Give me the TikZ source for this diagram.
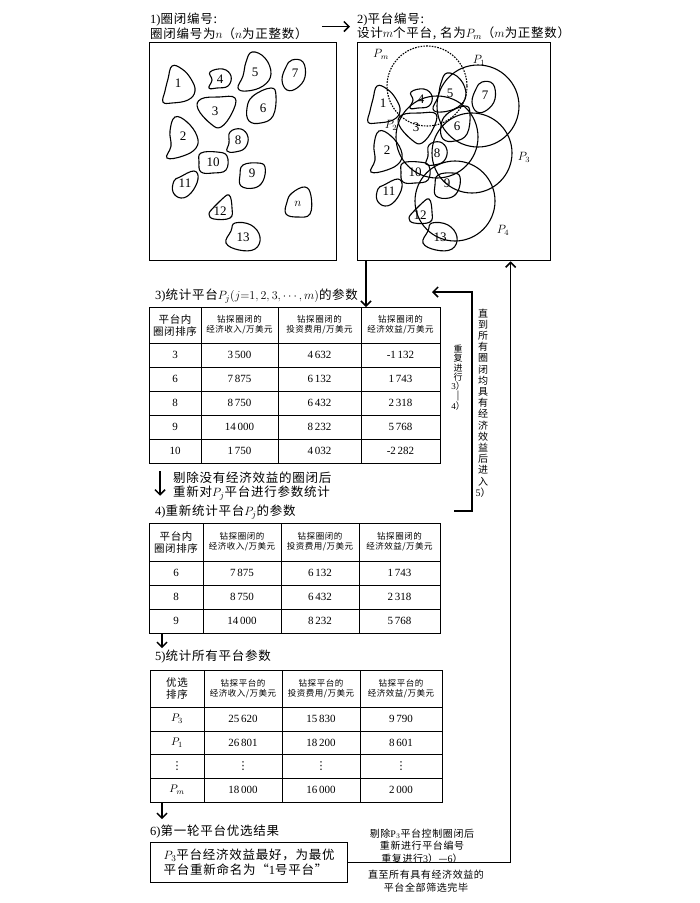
\documentclass[tikz,border=0pt]{standalone}
\usepackage[no-math]{fontspec}
\setmainfont[LetterSpace=6]{Noto Sans CJK SC}
\newfontfamily\numfont{Liberation Serif}
\newfontfamily\symfont{DejaVu Sans}
\usepackage{tikz}
\usetikzlibrary{arrows.meta}

\tikzset{
  frame/.style={draw, line width=1.3pt, inner sep=0pt},
  tbl/.style={draw, line width=1.2pt, inner sep=0pt},
  rule/.style={line width=0.9pt},
  blob/.style={line width=1.1pt},
  ring/.style={line width=1.1pt},
  arr/.style={line width=1.5pt, -{Straight Barb[length=5pt,width=10pt]}},
  ttl/.style={anchor=west, inner sep=0pt, align=left, font=\fontsize{12.5}{14.5}\selectfont},
  lbl/.style={inner sep=0pt, font=\numfont\fontsize{13}{15}\selectfont},
  plab/.style={inner sep=0pt, font=\fontsize{12}{14}\selectfont},
  hd/.style={inner sep=0pt, align=center, font=\fontsize{8.5}{10}\selectfont},
  hdA/.style={inner sep=0pt, align=center, font=\fontsize{10.5}{12}\selectfont},
  cell/.style={inner sep=0pt, font=\numfont\fontsize{11}{13}\selectfont},
  dots/.style={inner sep=0pt, font=\symfont\fontsize{11}{12}\selectfont},
  note/.style={inner sep=0pt, align=center, font=\fontsize{10}{12.5}\selectfont},
  blob1/.pic={\draw[blob] plot[smooth cycle, tension=0.7] coordinates {(-6,-17) (4,-14) (13,-4) (17,8) (10,17) (-6,20) (-15,19) (-13,8) (-10,-4)};},
  blob2/.pic={\draw[blob] plot[smooth cycle, tension=0.7] coordinates {(-8,-19) (4,-14) (14,0) (13,12) (0,20) (-16,22) (-12,10) (-13,-5)};},
  blob3/.pic={\draw[blob] plot[smooth cycle, tension=0.7] coordinates {(-14,-12) (4,-14) (20,-13) (17,2) (6,16) (-4,13) (-17,-2)};},
  blob4/.pic={\draw[blob] plot[smooth cycle, tension=0.7] coordinates {(-10,-7) (3,-10) (11,-3) (8,7) (-3,9) (-11,9) (-8,1)};},
  blob5/.pic={\draw[blob] plot[smooth cycle, tension=0.7] coordinates {(-3,-20) (10,-14) (16,2) (8,14) (-8,19) (-17,16) (-12,4) (-9,-10)};},
  blob6/.pic={\draw[blob] plot[smooth cycle, tension=0.7] coordinates {(-10,-12) (8,-20) (13,-12) (10,8) (-2,15) (-14,13) (-16,0)};},
  blob7/.pic={\draw[blob] plot[smooth cycle, tension=0.7] coordinates {(-3,-13) (8,-11) (10,4) (2,15) (-8,17) (-13,7) (-9,-6)};},
  blob8/.pic={\draw[blob] plot[smooth cycle, tension=0.7] coordinates {(-8,-8) (3,-11) (10,-3) (7,8) (-3,12) (-11,11) (-9,3)};},
  blob9/.pic={\draw[blob] plot[smooth cycle, tension=0.7] coordinates {(-9,-8) (6,-10) (13,-6) (11,8) (2,15) (-11,13) (-12,2)};},
  blob10/.pic={\draw[blob] plot[smooth cycle, tension=0.7] coordinates {(-12,-9) (4,-10) (14,-6) (13,8) (0,11) (-12,10) (-14,0)};},
  blob11/.pic={\draw[blob] plot[smooth cycle, tension=0.7] coordinates {(-5,-6) (9,-12) (13,-4) (6,10) (-4,15) (-12,9) (-11,-2)};},
  blob12/.pic={\draw[blob] plot[smooth cycle, tension=0.7] coordinates {(0,-10) (9,-16) (12,-3) (10,7) (-6,8) (-11,3) (-6,-4)};},
  blob13/.pic={\draw[blob] plot[smooth cycle, tension=0.7] coordinates {(-8,-14) (8,-12) (17,0) (12,12) (-4,13) (-17,6) (-12,-6)};},
  blobn/.pic={\draw[blob] plot[smooth cycle, tension=0.7] coordinates {(-6,-11) (7,-17) (13,-8) (12,10) (0,13) (-12,10) (-11,-2)};}
}

\begin{document}
\begin{tikzpicture}[x=1pt, y=-1pt]
	\fill[white] (0,0) rectangle (700,903);
	\useasboundingbox (0,0) rectangle (700,903);

	% 1) closures
	\node[ttl] (t1) at (150,26.5) {{\numfont 1)}圈闭编号:\\圈闭编号为$n$（$n$为正整数）};
	\node[frame, minimum width=187, minimum height=218, anchor=north west] (circbox) at (149,42) {};
	\foreach \k/\x/\y in {1/178/83, 2/183/136, 3/215/111, 4/220/79, 5/255/72, 6/263/108, 7/295/73, 8/238/140, 9/252/173, 10/213/162, 11/185/183, 12/220/211, 13/243/237}{
		\pic at (\x,\y) {blob\k};
		\node[lbl] (a\k) at (\x,\y) {\k};
	}
	\pic at (298,204) {blobn};
	\node[lbl] (an) at (298,204) {$n$};

	% 2) platforms
	\node[ttl] (t2) at (357,26.5) {{\numfont 2)}平台编号:\\设计$m$个平台, 名为$P_m$（$m$为正整数）};
	\node[frame, minimum width=193, minimum height=218, anchor=north west] (platbox) at (357,42) {};
	\foreach \k/\x/\y in {1/383/103, 2/387/150, 3/416/127, 4/421/99, 5/450/93, 6/457/126, 7/485/95, 8/437/153, 9/447/183, 10/415/172, 11/389/191, 12/420/215, 13/440/237}{
		\pic at (\x,\y) {blob\k};
		\node[lbl] (b\k) at (\x,\y) {\k};
	}
	\draw[ring, dash pattern=on 1.6pt off 1.2pt] (427,86) circle[radius=40];
	\draw[ring] (478,106) circle[radius=41];
	\draw[ring] (437,137) circle[radius=41];
	\draw[ring] (472,153) circle[radius=40];
	\draw[ring] (455,201) circle[radius=40];
	\node[plab] (pm) at (381,54) {$P_m$};
	\node[plab] (p1) at (479,60) {$P_1$};
	\node[plab] (p2) at (391,125) {$P_2$};
	\node[plab] (p3) at (524,157) {$P_3$};
	\node[plab] (p4) at (503,230) {$P_4$};

	\draw[arr] ([xshift=14pt]t1.east) -- ([xshift=-7pt]t2.west);

	% 3) table of platform P_j
	\node[ttl] (t3) at (155,296) {{\numfont 3)}统计平台$P_j(j{=}1,2,3,\cdots,m)$的参数};
	\node[tbl, minimum width=291, minimum height=156, anchor=north west] (tabA) at (149,307) {};
	\foreach \x in {201,278,361} \draw[rule] (\x,307) -- (\x,463);
	\foreach \y in {343,367,391,415,439} \draw[rule] (149,\y) -- (440,\y);
	\node[hdA] (ah1) at (175,325) {平台内\\圈闭排序};
	\node[hd] (ah2) at (239.5,325) {钻探圈闭的\\经济收入/万美元};
	\node[hd] (ah3) at (319.5,325) {钻探圈闭的\\投资费用/万美元};
	\node[hd] (ah4) at (400.5,325) {钻探圈闭的\\经济效益/万美元};
	\foreach \r/\ca/\cb/\cc/\cd in {355/3/3\,500/4\,632/-1\,132, 379/6/7\,875/6\,132/1\,743, 403/8/8\,750/6\,432/2\,318, 427/9/14\,000/8\,232/5\,768, 451/10/1\,750/4\,032/-2\,282}{
		\node[cell] (a\r-1) at (175,\r) {\ca};
		\node[cell] (a\r-2) at (239.5,\r) {\cb};
		\node[cell] (a\r-3) at (319.5,\r) {\cc};
		\node[cell] (a\r-4) at (400.5,\r) {\cd};
	}
	\draw[arr] ([xshift=9pt]platbox.south west) -- ([xshift=9pt]platbox.south west |- tabA.north);

	% loop back 3)-4)
	\coordinate (loopin) at (454,511);
	\coordinate (loopout) at (432,292);
	\draw[arr] (loopin) -- (472,511) -- (472,292) -- (loopout);
	\node[note, font=\fontsize{9}{9.2}\selectfont] (rep) at (458,378) {重\\复\\进\\行\\{\numfont 3}）\\|\\{\numfont 4}）};
	\node[note, font=\fontsize{10}{11.2}\selectfont] (until) at (483,403) {直\\到\\所\\有\\圈\\闭\\均\\具\\有\\经\\济\\效\\益\\后\\进\\入\\{\numfont 5}）};

	% 4) recount
	\node[ttl] (drop) at (173,486) {剔除没有经济效益的圈闭后\\重新对$P_j$平台进行参数统计};
	\node[ttl] (t4) at (155,512) {{\numfont 4)}重新统计平台$P_j$的参数};
	\draw[arr, shorten <=7pt, shorten >=9pt] ([xshift=11pt]tabA.south west) -- ([xshift=11pt]tabA.south west |- t4.north);
	\node[tbl, minimum width=291, minimum height=110, anchor=north west] (tabB) at (149,523) {};
	\foreach \x in {203,281,359} \draw[rule] (\x,523) -- (\x,633);
	\foreach \y in {561,585,609} \draw[rule] (149,\y) -- (440,\y);
	\node[hdA] (bh1) at (176,542) {平台内\\圈闭排序};
	\node[hd] (bh2) at (242,542) {钻探圈闭的\\经济收入/万美元};
	\node[hd] (bh3) at (320,542) {钻探圈闭的\\投资费用/万美元};
	\node[hd] (bh4) at (399.5,542) {钻探圈闭的\\经济效益/万美元};
	\foreach \r/\ca/\cb/\cc/\cd in {573/6/7\,875/6\,132/1\,743, 597/8/8\,750/6\,432/2\,318, 621/9/14\,000/8\,232/5\,768}{
		\node[cell] (b\r-1) at (176,\r) {\ca};
		\node[cell] (b\r-2) at (242,\r) {\cb};
		\node[cell] (b\r-3) at (320,\r) {\cc};
		\node[cell] (b\r-4) at (399.5,\r) {\cd};
	}

	% 5) all platforms
	\node[ttl] (t5) at (155,657) {{\numfont 5)}统计所有平台参数};
	\draw[arr, shorten >=2pt] ([xshift=13pt]tabB.south west) -- ([xshift=13pt]tabB.south west |- t5.north);
	\node[tbl, minimum width=292, minimum height=132, anchor=north west] (tabC) at (150,670) {};
	\foreach \x in {204,282,360} \draw[rule] (\x,670) -- (\x,802);
	\foreach \y in {707,731,754,778} \draw[rule] (150,\y) -- (442,\y);
	\node[hdA] (ch1) at (177,688.5) {优选\\排序};
	\node[hd] (ch2) at (243,688.5) {钻探平台的\\经济收入/万美元};
	\node[hd] (ch3) at (321,688.5) {钻探平台的\\投资费用/万美元};
	\node[hd] (ch4) at (401,688.5) {钻探平台的\\经济效益/万美元};
	\foreach \r/\ca/\cb/\cc/\cd in {719/$P_3$/25\,620/15\,830/9\,790, 742.5/$P_1$/26\,801/18\,200/8\,601, 790/$P_m$/18\,000/16\,000/2\,000}{
		\node[cell] (c\r-1) at (177,\r) {\ca};
		\node[cell] (c\r-2) at (243,\r) {\cb};
		\node[cell] (c\r-3) at (321,\r) {\cc};
		\node[cell] (c\r-4) at (401,\r) {\cd};
	}
	\foreach \x [count=\i] in {177,243,321,401}
		\node[dots] (cv\i) at (\x,766) {⋮};

	% 6) result
	\node[ttl] (t6) at (150,832) {{\numfont 6)}第一轮平台优选结果};
	\draw[arr, shorten >=6pt] ([xshift=12pt]tabC.south west) -- ([xshift=12pt]tabC.south west |- t6.north);
	\node[frame, minimum width=197, minimum height=40, anchor=north west, align=left, font=\fontsize{12.5}{15}\selectfont] (best) at (150,842) {$P_3$平台经济效益最好，为最优\\平台重新命名为“{\numfont 1}号平台”};
	\draw[arr] (best.east) -| ([xshift=56.5pt]platbox.south);
	\node[note] (redo) at (422,846) {剔除{\numfont P}$_3$平台控制圈闭后\\重新进行平台编号\\重复进行{\numfont 3}）—{\numfont 6}）};
	\node[note] (done) at (426,881) {直至所有具有经济效益的\\平台全部筛选完毕};
\end{tikzpicture}
\end{document}
